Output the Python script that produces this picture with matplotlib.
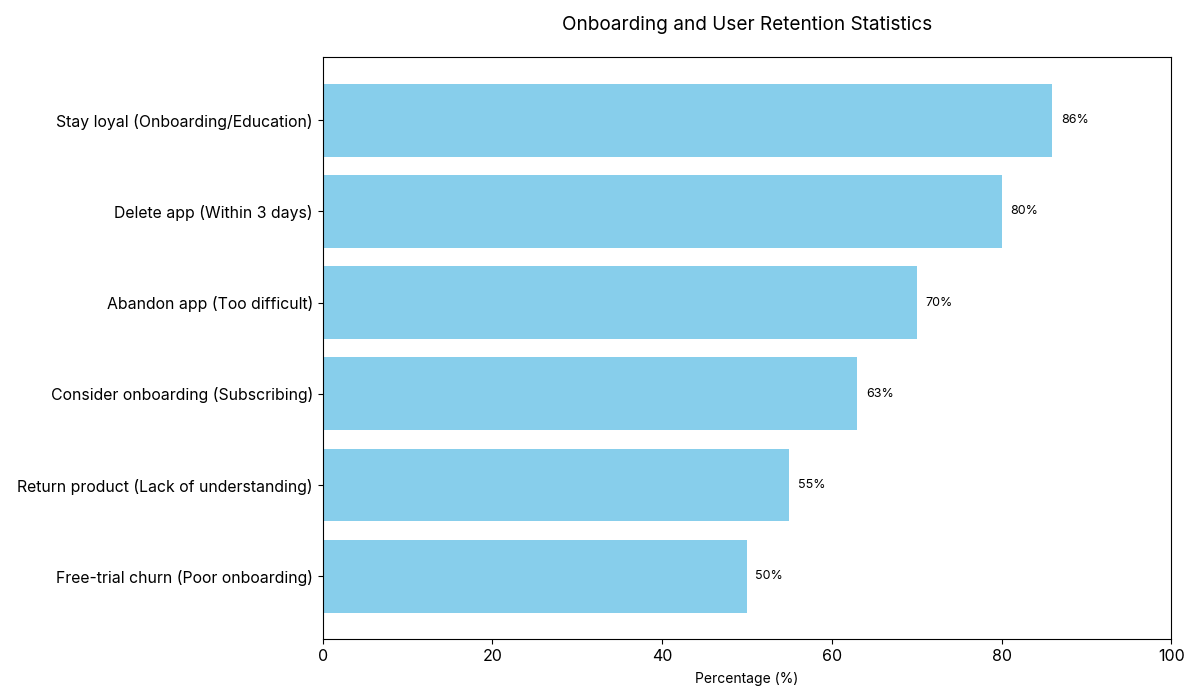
import matplotlib
matplotlib.use("Agg")
import matplotlib.pyplot as plt

categories = [
    "Free-trial churn (Poor onboarding)",
    "Return product (Lack of understanding)",
    "Consider onboarding (Subscribing)",
    "Abandon app (Too difficult)",
    "Delete app (Within 3 days)",
    "Stay loyal (Onboarding/Education)",
]
values = [50, 55, 63, 70, 80, 86]

plt.rcParams['font.family'] = ['Inter', 'DejaVu Sans']

fig, ax = plt.subplots(figsize=(12, 7), dpi=100)
fig.subplots_adjust(left=0.269, right=0.976, top=0.918, bottom=0.087)

bars = ax.barh(categories, values, color='#87CEEB', height=0.8)
for b, v in zip(bars, values):
    ax.text(b.get_width() + 1, b.get_y() + b.get_height() / 2, f"{v}%",
            va='center', ha='left', fontsize=9)

ax.set_xlim(0, 100)
ax.set_xlabel("Percentage (%)", fontsize=10, labelpad=6)
ax.set_title("Onboarding and User Retention Statistics", fontsize=13.7, pad=20)
ax.tick_params(axis='y', labelsize=11.4)
ax.tick_params(axis='x', labelsize=11.5)

fig.savefig("out.png", dpi=100)
